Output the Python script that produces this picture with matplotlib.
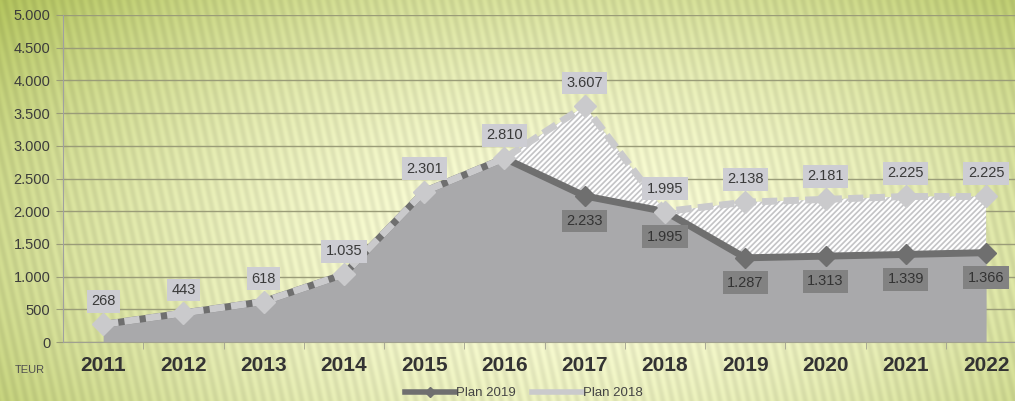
import numpy as np
import matplotlib
matplotlib.use("Agg")
import matplotlib.pyplot as plt
from matplotlib.lines import Line2D

years = ["2011", "2012", "2013", "2014", "2015", "2016", "2017", "2018", "2019", "2020", "2021", "2022"]
plan_2019 = [268, 443, 618, 1035, 2301, 2810, 2233, 1995, 1287, 1313, 1339, 1366]
plan_2018 = [268, 443, 618, 1035, 2301, 2810, 3607, 1995, 2138, 2181, 2225, 2225]
y_ticks = [0, 500, 1000, 1500, 2000, 2500, 3000, 3500, 4000, 4500, 5000]

def fmt(v):
    return f"{v:,}".replace(",", ".")

plt.rcParams['font.family'] = ['Liberation Sans', 'DejaVu Sans']
plt.rcParams['hatch.linewidth'] = 1.6
plt.rcParams['hatch.color'] = 'white'

W, H = 1015, 401
fig = plt.figure(figsize=(W / 100, H / 100), dpi=100)

# background gradient with slanted stripes
yy, xx = np.mgrid[0:H, 0:W]
cx, cy = 0.55 * W, 0.62 * H
d = np.sqrt(((xx - cx) / (0.6 * W)) ** 2 + ((yy - cy) / (0.75 * H)) ** 2)
d = np.clip(d, 0, 1.3)
light = np.array([244, 246, 210]) / 255.0
dark = np.array([196, 208, 128]) / 255.0
t = (d ** 1.8)[..., None]
img = light * (1 - t) + dark * t
stripes = np.sin(2 * np.pi * (xx + 0.22 * (H - yy)) / 9.5)
img = img * (1 + 0.035 * stripes[..., None])
img = np.clip(img, 0, 1)
bg = fig.add_axes([0, 0, 1, 1], zorder=-10)
bg.imshow(img, aspect='auto', extent=[0, 1, 0, 1], interpolation='bilinear')
bg.axis('off')

ax = fig.add_axes([63 / W, (H - 342) / H, 1 - 63 / W, (342 - 15) / H])
ax.set_facecolor('none')
x = np.arange(len(years))
ax.set_xlim(-0.5, 11.36)
ax.set_ylim(0, 5000)

grid_c = '#9a9c78'
for v in y_ticks:
    ax.axhline(v, color=grid_c, lw=1.0, zorder=1)

# areas
ax.fill_between(x, 0, plan_2019, color='#a9a9ab', lw=0, zorder=2)
p19 = np.array(plan_2019); p18 = np.array(plan_2018)
ax.fill_between(x, p19, p18, where=p18 >= p19, facecolor='#c4c4c6', edgecolor='white',
                hatch='//////', lw=0, zorder=3, interpolate=True)

# lines
ax.plot(x, plan_2019, color='#6f6f6f', lw=5, marker='D', markersize=10,
        markerfacecolor='#6f6f6f', markeredgecolor='#6f6f6f', zorder=4, solid_joinstyle='miter')
ax.plot(x, plan_2018, color='#cacacc', lw=5, ls=(0, (2.2, 0.9)), marker='D', markersize=11,
        markerfacecolor='#cacacc', markeredgecolor='#cacacc', zorder=5)

# labels
for i, (a, b) in enumerate(zip(plan_2019, plan_2018)):
    ax.annotate(fmt(b), (i, b), xytext=(0, 23), textcoords='offset pixels', ha='center', va='center',
                fontsize=10.5, color='#3a3a3a', zorder=7,
                bbox=dict(boxstyle='square,pad=0.3', fc='#cdcdd3', ec='none'))
    if i >= 6:
        ax.annotate(fmt(a), (i, a), xytext=(0, -25), textcoords='offset pixels', ha='center', va='center',
                    fontsize=10.5, color='#333333', zorder=7,
                    bbox=dict(boxstyle='square,pad=0.3', fc='#828282', ec='none'))

# axes styling
for s in ['top', 'right']:
    ax.spines[s].set_visible(False)
ax.spines['left'].set_color('#a0a0a0')
ax.spines['bottom'].set_color('#a0a090')
ax.spines['left'].set_zorder(6)
ax.set_yticks(y_ticks)
ax.set_yticklabels([fmt(v) for v in y_ticks], fontsize=10.5, color='#3c3c3c')
ax.tick_params(axis='y', length=5, color=grid_c, pad=4)
ax.set_xticks(x)
ax.set_xticklabels(years, fontsize=15, fontweight='bold', color='#333333')
ax.tick_params(axis='x', length=0, pad=10)
ax.set_xticks(np.arange(0.5, 11.5, 1), minor=True)
ax.tick_params(axis='x', which='minor', length=5, color='#a0a090')

fig.text(30 / W, 1 - 370 / H, 'TEUR', fontsize=8, color='#505050', ha='center', va='center')

handles = [Line2D([0], [0], color='#6f6f6f', lw=4, marker='D', markersize=5),
           Line2D([0], [0], color='#cacacc', lw=4)]
fig.legend(handles, ['Plan 2019', 'Plan 2018'], loc='center', bbox_to_anchor=(524 / W, 1 - 393 / H),
           ncol=2, frameon=False, fontsize=9.5, labelcolor='#444444', handlelength=3.8,
           handletextpad=0.1, columnspacing=1.2, borderpad=0)

fig.savefig('out.png', dpi=100)
